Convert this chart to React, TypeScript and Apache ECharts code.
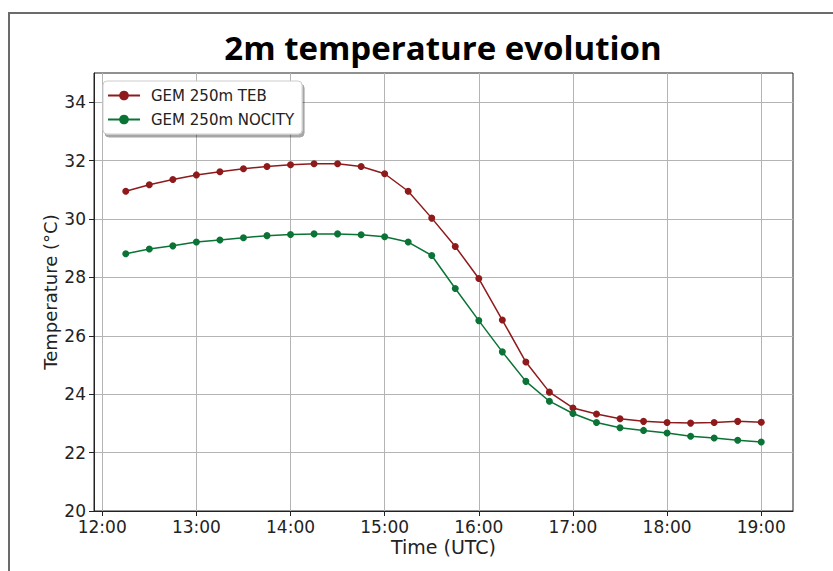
import React, { useEffect, useRef } from "react";
import * as echarts from "echarts";

const chartTitle = "2m temperature evolution";
const xAxisTitle = "Time (UTC)";
const yAxisTitle = "Temperature (°C)";
const seriesNames = ["GEM 250m TEB", "GEM 250m NOCITY"];

const times = [
  "12:15", "12:30", "12:45", "13:00", "13:15", "13:30", "13:45", "14:00",
  "14:15", "14:30", "14:45", "15:00", "15:15", "15:30", "15:45", "16:00",
  "16:15", "16:30", "16:45", "17:00", "17:15", "17:30", "17:45", "18:00",
  "18:15", "18:30", "18:45", "19:00",
];

const tebTemps = [
  30.95, 31.17, 31.35, 31.51, 31.62, 31.72, 31.8, 31.86,
  31.89, 31.89, 31.8, 31.55, 30.95, 30.03, 29.06, 27.96,
  26.54, 25.1, 24.07, 23.53, 23.32, 23.16, 23.07, 23.03,
  23.01, 23.03, 23.07, 23.04,
];

const nocityTemps = [
  28.81, 28.97, 29.08, 29.21, 29.28, 29.36, 29.43, 29.47,
  29.49, 29.49, 29.46, 29.39, 29.21, 28.75, 27.62, 26.52,
  25.45, 24.44, 23.76, 23.34, 23.03, 22.85, 22.76, 22.67,
  22.56, 22.5, 22.42, 22.36,
];

const xTickLabels = ["12:00", "13:00", "14:00", "15:00", "16:00", "17:00", "18:00", "19:00"];
const yTickValues = [20, 22, 24, 26, 28, 30, 32, 34];

const toHours = (t: string) => {
  const [h, m] = t.split(":").map(Number);
  return h + m / 60;
};

const seriesColors = ["#8e1a1c", "#0b7336"];

export default function App() {
  const ref = useRef<HTMLDivElement>(null);

  useEffect(() => {
    if (!ref.current) return;
    const chart = echarts.init(ref.current, null, { renderer: "svg" });
    const xTicks = xTickLabels.map(toHours);
    const axisColor = "#222";
    const gridColor = "#b4b4b4";
    const font = "DejaVu Sans";

    chart.setOption({
      animation: false,
      backgroundColor: "#fff",
      textStyle: { fontFamily: font },
      graphic: [
        {
          type: "rect",
          shape: { x: 9, y: 13, width: 900, height: 700 },
          style: { fill: "none", stroke: "#6b6b6b", lineWidth: 2 },
          silent: true,
        },
        {
          type: "text",
          x: 443,
          y: 47,
          style: {
            text: chartTitle,
            fill: "#000",
            font: "bold 33px 'Open Sans'",
            align: "center",
            verticalAlign: "middle",
          },
        },
      ],
      grid: {
        left: 94,
        right: 40,
        top: 73,
        bottom: 60,
        show: true,
        borderColor: axisColor,
        borderWidth: 1,
        backgroundColor: "transparent",
      },
      legend: {
        orient: "vertical",
        left: 103,
        top: 81,
        data: seriesNames,
        itemWidth: 32,
        itemHeight: 12,
        itemGap: 9,
        padding: [7, 8, 7, 4],
        backgroundColor: "#fff",
        borderColor: "#cccccc",
        borderWidth: 1,
        borderRadius: 4,
        shadowColor: "rgba(0,0,0,0.35)",
        shadowOffsetX: 2,
        shadowOffsetY: 3,
        shadowBlur: 0,
        textStyle: {
          fontFamily: font,
          fontSize: 15,
          color: "#222",
          padding: [0, 0, 0, 6],
        },
      },
      xAxis: {
        type: "value",
        min: toHours("11:54") + 0.75 / 60,
        max: toHours("19:20") + 0.25 / 60,
        name: xAxisTitle,
        nameLocation: "middle",
        nameGap: 26,
        nameMoveOverlap: false,
        nameTextStyle: { fontFamily: font, fontSize: 19, color: "#222", verticalAlign: "top" },
        axisLine: { show: true, lineStyle: { color: axisColor, width: 1 } },
        axisTick: {
          show: true,
          inside: false,
          length: 5,
          lineStyle: { color: axisColor },
          customValues: xTicks,
        },
        axisLabel: {
          fontFamily: font,
          fontSize: 17,
          color: "#222",
          margin: 7,
          customValues: xTicks,
          formatter: (v: number) => xTickLabels[xTicks.indexOf(v)] ?? "",
        },
        splitLine: { show: true, lineStyle: { color: gridColor, width: 1 } },
      },
      yAxis: {
        type: "value",
        min: 20,
        max: 35,
        name: yAxisTitle,
        nameLocation: "middle",
        nameGap: 35,
        nameMoveOverlap: false,
        nameRotate: 90,
        nameTextStyle: { fontFamily: font, fontSize: 18, color: "#222" },
        axisLine: { show: true, lineStyle: { color: axisColor, width: 1 } },
        axisTick: {
          show: true,
          inside: false,
          length: 5,
          lineStyle: { color: axisColor },
          customValues: yTickValues,
        },
        axisLabel: {
          fontFamily: font,
          fontSize: 17,
          color: "#222",
          margin: 8,
          customValues: yTickValues,
        },
        splitLine: { show: true, lineStyle: { color: gridColor, width: 1 } },
      },
      series: [
        {
          name: seriesNames[0],
          type: "line",
          data: times.map((t, i) => [toHours(t), tebTemps[i]]),
          symbol: "circle",
          symbolSize: 7,
          color: seriesColors[0],
          lineStyle: { color: seriesColors[0], width: 1.5 },
          itemStyle: { color: seriesColors[0] },
        },
        {
          name: seriesNames[1],
          type: "line",
          data: times.map((t, i) => [toHours(t), nocityTemps[i]]),
          symbol: "circle",
          symbolSize: 7,
          color: seriesColors[1],
          lineStyle: { color: seriesColors[1], width: 1.5 },
          itemStyle: { color: seriesColors[1] },
        },
      ],
    });

    return () => chart.dispose();
  }, []);

  return (
    <div
      ref={ref}
      style={{ position: "fixed", left: 0, top: 0, width: 833, height: 571 }}
    />
  );
}
